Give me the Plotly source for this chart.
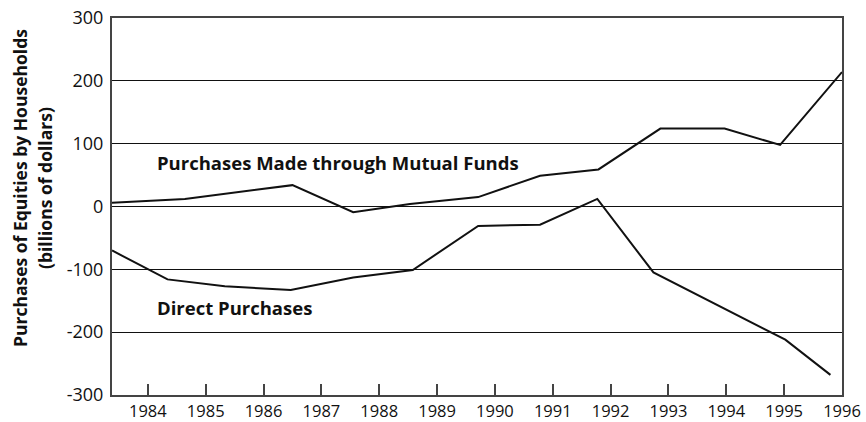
import plotly.graph_objects as go

# Household equity purchases, billions of dollars (positions in fractional years)
mutual_years = [1983.38, 1984.64, 1986.50, 1987.55, 1988.53, 1989.71, 1990.78,
                1991.79, 1992.86, 1993.97, 1994.93, 1996.00]
mutual_values = [6, 12, 34, -9, 4, 15, 49, 59, 124, 124, 98, 214]

direct_years = [1983.38, 1984.34, 1985.33, 1986.47, 1987.55, 1988.58, 1989.71,
                1990.78, 1991.77, 1992.74, 1995.02, 1995.80]
direct_values = [-70, -116, -127, -133, -113, -101, -31, -29, 12, -105, -212, -268]

year_ticks = list(range(1984, 1997))
value_ticks = [-300, -200, -100, 0, 100, 200, 300]
value_labels = ["-300", "-200", "-100", "0", "100", "200", "300"]

FONT = "Open Sans"
INK = "#111111"

fig = go.Figure()
fig.add_trace(go.Scatter(x=mutual_years, y=mutual_values, mode="lines",
                         line=dict(color=INK, width=2), showlegend=False))
fig.add_trace(go.Scatter(x=direct_years, y=direct_values, mode="lines",
                         line=dict(color=INK, width=2), showlegend=False))

fig.update_layout(
    width=866, height=422,
    margin=dict(l=112, r=24, t=18, b=27),
    paper_bgcolor="white", plot_bgcolor="white",
    font=dict(family=FONT, size=18, color=INK),
    xaxis=dict(
        range=[1983.38, 1996.0], tickvals=year_ticks,
        ticktext=[str(y) for y in year_ticks],
        showgrid=False, zeroline=False, automargin=False,
        showline=True, mirror=True, linecolor="#444444", linewidth=2,
        ticks="inside", ticklen=11, tickwidth=1.5, tickcolor="#444444",
        tickfont=dict(family=FONT, size=16.5, color=INK), fixedrange=True,
    ),
    yaxis=dict(
        range=[-300, 300], tickvals=value_ticks, ticktext=value_labels,
        showgrid=True, gridcolor=INK, gridwidth=1, zeroline=False,
        automargin=False,
        showline=True, mirror=True, linecolor="#444444", linewidth=2,
        ticks="", ticklabelstandoff=3,
        tickfont=dict(family=FONT, size=18, color=INK), fixedrange=True,
    ),
    annotations=[
        dict(text="<b>Purchases of Equities by Households</b>", textangle=-90,
             xref="paper", yref="paper", x=0, y=0.549, xanchor="center",
             yanchor="middle", xshift=-92, showarrow=False,
             font=dict(family=FONT, size=17.5, color=INK)),
        dict(text="<b>(billions of dollars)</b>", textangle=-90,
             xref="paper", yref="paper", x=0, y=0.549, xanchor="center",
             yanchor="middle", xshift=-67, showarrow=False,
             font=dict(family=FONT, size=17.5, color=INK)),
        dict(text="<b>Purchases Made through Mutual Funds</b>",
             x=1984.12, y=70, xanchor="left", yanchor="middle", showarrow=False,
             font=dict(family=FONT, size=18.5, color=INK)),
        dict(text="<b>Direct Purchases</b>",
             x=1984.12, y=-161, xanchor="left", yanchor="middle", showarrow=False,
             font=dict(family=FONT, size=18.5, color=INK)),
    ],
)

fig.write_html("out.html")
